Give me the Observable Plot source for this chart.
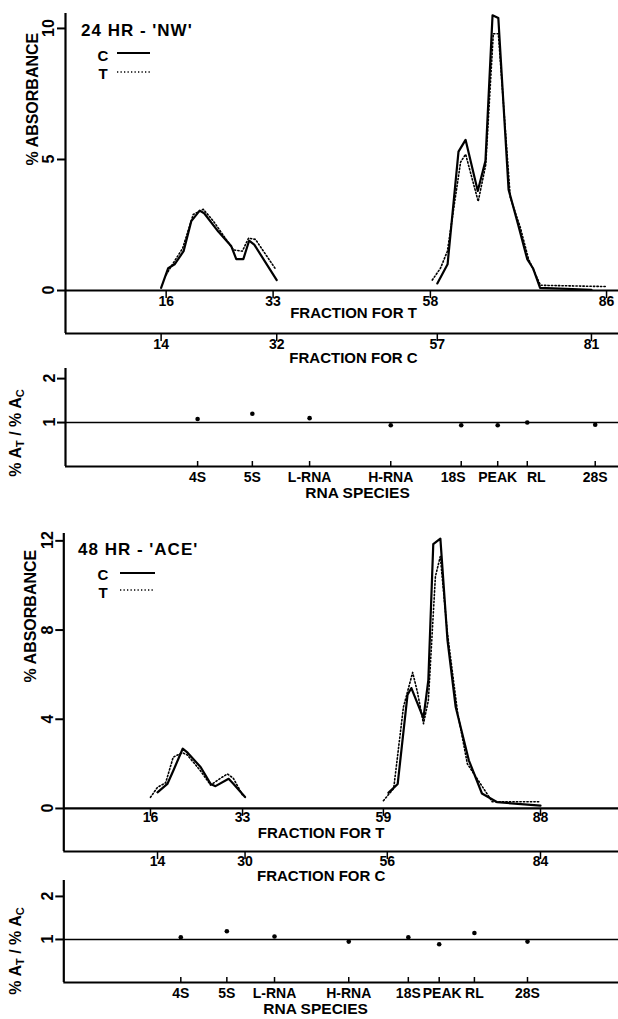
<!DOCTYPE html>
<html>
<head>
<meta charset="utf-8">
<script src="https://cdn.jsdelivr.net/npm/d3@7"></script>
<script src="https://cdn.jsdelivr.net/npm/@observablehq/plot@0.6"></script>
<style>
  body { margin: 0; background: #fff; }
  #fig { position: relative; width: 618px; height: 1019px; font-family: "Liberation Sans", Arial, sans-serif; font-weight: bold; color: #000; overflow: hidden; }
  #fig svg.panel { position: absolute; left: 0; }
  .lab { position: absolute; white-space: nowrap; transform: translateY(-50%); }
  .mid { position: absolute; white-space: nowrap; transform: translate(-50%, -50%); }
  .rot { position: absolute; white-space: nowrap; transform: translate(-50%, -50%) rotate(-90deg); font-size: 16px; line-height: 1; }
  .rot sub { font-size: 11px; vertical-align: -3px; }
  .key { position: absolute; }
</style>
</head>
<body>
<div id="fig">
  <div class="lab" style="left:81px;top:31px;font-size:17px;letter-spacing:1px">24 HR - 'NW'</div>
  <div class="mid" style="left:103px;top:55px;font-size:15px">C</div>
  <svg class="key" style="left:117px;top:51px" width="33" height="4"><line x1="0" y1="2" x2="33" y2="2" stroke="#000" stroke-width="2"/></svg>
  <div class="mid" style="left:103px;top:73px;font-size:15px">T</div>
  <svg class="key" style="left:117px;top:70px" width="33" height="4"><line x1="0" y1="2" x2="33" y2="2" stroke="#000" stroke-width="1.6" stroke-dasharray="1.3,2.2"/></svg>

  <div class="lab" style="left:78px;top:550px;font-size:17px;letter-spacing:1px">48 HR - 'ACE'</div>
  <div class="mid" style="left:103px;top:574px;font-size:15px">C</div>
  <svg class="key" style="left:120px;top:571px" width="35" height="4"><line x1="0" y1="2" x2="35" y2="2" stroke="#000" stroke-width="2"/></svg>
  <div class="mid" style="left:103px;top:592px;font-size:15px">T</div>
  <svg class="key" style="left:120px;top:588px" width="35" height="4"><line x1="0" y1="2" x2="35" y2="2" stroke="#000" stroke-width="1.6" stroke-dasharray="1.3,2.2"/></svg>

  <div class="rot" style="left:17px;top:433px">% A<sub>T</sub> / % A<sub>C</sub></div>
  <div class="rot" style="left:17px;top:951px">% A<sub>T</sub> / % A<sub>C</sub></div>
</div>
<script>
// ---------- 24 HR - 'NW' ----------
const nwFracTicksT = [16, 33, 58, 86];
const nwFracTicksC = [14, 32, 57, 81];
// C fractions and the T-fraction positions they sit over
const nwAlignC = [14, 81];
const nwAlignT = [15.2, 83.6];
const nwAbsTicks = [0, 5, 10];
// C curve: [fraction for C, % absorbance]
const nwC_small = [[14,0.1],[15.1,0.85],[16.1,1.0],[17.5,1.5],[18.7,2.65],[20.0,3.05],[20.7,2.95],[22.9,2.25],[24.9,1.7],[25.7,1.2],[26.8,1.2],[27.7,1.9],[28.5,1.75],[32,0.4]];
const nwC_large = [[57,0.27],[58.6,1.0],[60.3,5.3],[61.4,5.75],[63.3,3.8],[64.5,4.95],[65.6,10.5],[66.5,10.4],[68.1,3.85],[69.6,2.5],[71.0,1.2],[71.9,0.85],[73.0,0.1],[81,0.03]];
// T curve: [fraction for T, % absorbance]
const nwT_small = [[16,0.6],[17.0,1.0],[18.6,1.6],[20.3,2.9],[21.9,3.1],[23.5,2.65],[26.7,1.55],[28.1,1.5],[29.1,2.0],[30.2,1.95],[33.3,0.85]];
const nwT_large = [[58.3,0.4],[59.6,0.85],[60.7,1.5],[62.8,4.9],[63.6,5.2],[65.6,3.4],[66.8,4.8],[68.0,9.8],[68.8,9.8],[70.7,3.55],[72.3,2.4],[73.6,1.2],[75.5,0.2],[86,0.15]];

// ---------- 48 HR - 'ACE' ----------
const aceFracTicksT = [16, 33, 59, 88];
const aceFracTicksC = [14, 30, 56, 84];
const aceAlignC = [14, 84];
const aceAlignT = [17.3, 88.0];
const aceAbsTicks = [0, 4, 8, 12];
const aceC_small = [[14,0.72],[15.8,1.1],[16.9,1.7],[18.6,2.68],[19.5,2.5],[21.9,1.85],[23.7,1.1],[24.6,1.0],[27.0,1.33],[27.9,1.1],[30,0.51]];
const aceC_large = [[56.2,0.7],[57.9,1.1],[59.7,5.1],[60.4,5.4],[62.6,4.05],[63.5,5.75],[64.4,11.85],[65.7,12.1],[67.0,7.55],[68.5,4.55],[70.9,2.16],[73.3,0.67],[76.1,0.28],[84,0.13]];
const aceT_small = [[16,0.5],[17.3,0.95],[18.8,1.15],[20.2,2.3],[21.9,2.5],[22.8,2.4],[25.2,1.7],[27.1,1.05],[28.9,1.35],[30.2,1.55],[31.3,1.35],[33,0.6]];
const aceT_large = [[59,0.35],[60.9,0.9],[62.7,4.55],[64.4,6.1],[65.3,5.2],[66.4,3.8],[67.3,4.85],[68.6,10.4],[69.5,11.3],[70.8,7.9],[72.7,4.3],[74.5,2.0],[79.1,0.3],[88,0.3]];

// ---------- ratio panels ----------
const species = ["4S", "5S", "L-RNA", "H-RNA", "18S", "PEAK", "RL", "28S"];
const nwSpeciesFrac = [21.0, 29.7, 38.8, 51.7, 62.9, 68.7, 73.4, 84.2];
const nwRatio = [1.08, 1.2, 1.1, 0.94, 0.94, 0.94, 1.0, 0.95];
const aceSpeciesFrac = [21.6, 30.1, 38.9, 52.6, 63.6, 69.3, 75.8, 85.6];
const aceRatio = [1.05, 1.19, 1.07, 0.95, 1.05, 0.89, 1.15, 0.95];
const ratioTicks = [1, 2];

const FONT = "'Liberation Sans', Arial, sans-serif";
const baseStyle = {background: "transparent", overflow: "visible", fontFamily: FONT, fontWeight: "bold", fontSize: "15px", color: "#000"};

function absPanel(c) {
  const cToT = d3.scaleLinear(c.alignC, c.alignT);
  const rowsC = c.curvesC.flatMap((seg, i) => seg.map(([f, v]) => ({x: cToT(f), v, s: i})));
  const rowsT = c.curvesT.flatMap((seg, i) => seg.map(([f, v]) => ({x: f, v, s: i})));
  const [y0, y1] = c.yDomain;
  const [x0, x1] = c.xDomain;
  const tickY = 8 / ((c.height - c.mt - c.mb) / (y1 - y0));
  const tickX = 8 / ((618 - c.ml) / (x1 - x0));
  return Plot.plot({
    width: 618, height: c.height,
    marginLeft: c.ml, marginRight: 0, marginTop: c.mt, marginBottom: c.mb,
    x: {domain: c.xDomain, axis: null},
    y: {domain: c.yDomain, axis: null},
    style: baseStyle,
    marks: [
      Plot.ruleX([x0], {strokeWidth: 2.2}),
      Plot.ruleY([0], {strokeWidth: 2.2}),
      Plot.ruleY([y0], {strokeWidth: 2.2}),
      Plot.ruleY(c.yTicks, {y: (d) => d, x1: x0 - tickX, x2: x0, strokeWidth: 2}),
      Plot.ruleX(c.ticksT, {x: (d) => d, y1: 0, y2: -tickY, strokeWidth: 1.5}),
      Plot.text(c.ticksT, {x: (d) => d, y: 0, dy: c.tLabDy, text: (d) => String(d), fontSize: 14}),
      Plot.ruleX(c.ticksC, {x: (d) => cToT(d), y1: y0, y2: y0 - tickY, strokeWidth: 1.5}),
      Plot.text(c.ticksC, {x: (d) => cToT(d), y: y0, dy: c.cLabDy, text: (d) => String(d), fontSize: 14}),
      Plot.text(["FRACTION FOR T"], {frameAnchor: "bottom", text: (d) => d, dx: c.fracDx, dy: c.fracTDy, fontSize: 15}),
      Plot.text(["FRACTION FOR C"], {frameAnchor: "bottom", text: (d) => d, dx: c.fracDx, dy: c.fracCDy, fontSize: 15}),
      Plot.text(["% ABSORBANCE"], {frameAnchor: "left", text: (d) => d, rotate: -90, dx: -33, dy: c.titleDy, fontSize: 16}),
      Plot.line(rowsC, {x: "x", y: "v", z: "s", stroke: "#000", strokeWidth: 2.2}),
      Plot.line(rowsT, {x: "x", y: "v", z: "s", stroke: "#000", strokeWidth: 1.6, strokeDasharray: "1.3,2.2"})
    ]
  });
}

function ratioPanel(c) {
  const rows = species.map((s, i) => ({s, f: c.frac[i], r: c.ratio[i]}));
  const [y0, y1] = c.yDomain;
  const [x0, x1] = c.xDomain;
  const tickY = 5 / ((c.height - c.mt - c.mb) / (y1 - y0));
  const tickX = 8 / ((618 - c.ml) / (x1 - x0));
  const nudge = c.labelNudge;
  const plain = rows.filter((d) => !(d.s in nudge));
  return Plot.plot({
    width: 618, height: c.height,
    marginLeft: c.ml, marginRight: 0, marginTop: c.mt, marginBottom: c.mb,
    x: {domain: c.xDomain, axis: null},
    y: {domain: c.yDomain, axis: null},
    style: baseStyle,
    marks: [
      Plot.ruleX([x0], {strokeWidth: 2.2}),
      Plot.ruleY([y0], {strokeWidth: 2.2}),
      Plot.ruleY([1], {strokeWidth: 1.4}),
      Plot.ruleY(ratioTicks, {y: (d) => d, x1: x0 - tickX, x2: x0, strokeWidth: 2}),
      Plot.ruleX(rows, {x: "f", y1: y0, y2: y0 + tickY, strokeWidth: 1.5}),
      Plot.text(plain, {x: "f", y: y0, dy: 11, text: "s", fontSize: 14}),
      ...Object.entries(nudge).map(([s, dx]) =>
        Plot.text(rows.filter((d) => d.s === s), {x: "f", y: y0, dy: 11, dx, text: "s", fontSize: 14})),
      Plot.text(["RNA SPECIES"], {frameAnchor: "bottom", text: (d) => d, dx: c.titleDx, dy: c.titleDy, fontSize: 15.5}),
      Plot.dot(rows, {x: "f", y: "r", r: 2.3, fill: "#000", stroke: null})
    ]
  });
}

const fig = document.getElementById("fig");
// place a panel, then write its rotated y tick labels at positions from a Plot scale matching the panel's y scale
function place(c, maker, top, yTicks, labelDx) {
  const svg = maker(c);
  svg.classList.add("panel");
  svg.style.top = top + "px";
  fig.appendChild(svg);
  const sy = Plot.scale({y: {type: "linear", domain: c.yDomain, range: [c.height - c.mb, c.mt]}});
  for (const t of yTicks) {
    const d = document.createElement("div");
    d.className = "rot";
    d.textContent = String(t);
    d.style.left = (c.ml + labelDx) + "px";
    d.style.top = (top + sy.apply(t)) + "px";
    fig.appendChild(d);
  }
}

place({
  height: 375, mt: 13, mb: 42, ml: 65,
  xDomain: [0, 87.9], yDomain: [-1.64, 10.57],
  alignC: nwAlignC, alignT: nwAlignT,
  curvesC: [nwC_small, nwC_large], curvesT: [nwT_small, nwT_large],
  ticksT: nwFracTicksT, ticksC: nwFracTicksC, yTicks: nwAbsTicks,
  tLabDy: 11, cLabDy: 11, fracDx: 11.5, fracTDy: -16, fracCDy: 29, titleDy: -8
}, absPanel, 0, nwAbsTicks, -16.5);

place({
  height: 140, mt: 8, mb: 34, ml: 65,
  xDomain: [0, 87.9], yDomain: [0, 2.23],
  frac: nwSpeciesFrac, ratio: nwRatio,
  labelNudge: {"18S": -8, "RL": 9},
  titleDx: 15.5, titleDy: 31
}, ratioPanel, 360, ratioTicks, -15);

place({
  height: 375, mt: 13, mb: 44, ml: 63.3,
  xDomain: [0, 102.4], yDomain: [-1.93, 12.33],
  alignC: aceAlignC, alignT: aceAlignT,
  curvesC: [aceC_small, aceC_large], curvesT: [aceT_small, aceT_large],
  ticksT: aceFracTicksT, ticksC: aceFracTicksC, yTicks: aceAbsTicks,
  tLabDy: 9, cLabDy: 10, fracDx: -20, fracTDy: -14, fracCDy: 29, titleDy: -10
}, absPanel, 520, aceAbsTicks, -15.5);

place({
  height: 149, mt: 10, mb: 37, ml: 63.3,
  xDomain: [0, 102.4], yDomain: [0, 2.37],
  frac: aceSpeciesFrac, ratio: aceRatio,
  labelNudge: {"PEAK": 3},
  titleDx: -25.6, titleDy: 31
}, ratioPanel, 870, ratioTicks, -15);
</script>
</body>
</html>
